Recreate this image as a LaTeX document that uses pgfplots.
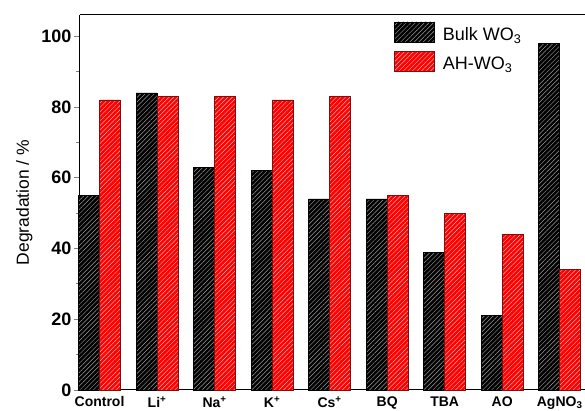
\documentclass[border=0pt]{standalone}
\usepackage{pgfplots}
\pgfplotsset{compat=1.18}
\usepackage{fontspec}
\setmainfont{Liberation Sans}
\usetikzlibrary{patterns.meta}
\definecolor{edgered}{HTML}{7A1010}
\begin{document}
\begin{tikzpicture}
\begin{axis}[
  scale only axis,
  width=505pt, height=375pt,
  xmin=-0.34, xmax=8.44,
  ymin=0, ymax=106,
  axis x line*=box,
  axis y line*=left,
  axis line style={line width=1pt},
  ybar=0pt,
  bar width=21pt,
  xtick={0,1,2,3,4,5,6,7,8},
  xticklabels={Control,Li\textsuperscript{+},Na\textsuperscript{+},K\textsuperscript{+},Cs\textsuperscript{+},BQ,TBA,AO,AgNO\textsubscript{3}},
  xtick style={draw=none},
  xticklabel style={font=\fontsize{14}{14}\selectfont\bfseries, yshift=3pt},
  ytick={0,20,40,60,80,100},
  minor ytick={10,30,50,70,90},
  tick align=outside,
  major tick length=6pt,
  minor tick length=4pt,
  ytick style={line width=0.8pt},
  yticklabel style={font=\fontsize{18}{18}\selectfont\bfseries, xshift=1pt},
  /pgf/number format/assume math mode=true,
  ylabel={Degradation / \%},
  ylabel style={font=\fontsize{17.5}{17.5}\selectfont, yshift=2pt},
  legend style={draw=none, fill=none, at={(rel axis cs:0.622,0.983)}, anchor=north west,
    font=\fontsize{18}{18}\selectfont, row sep=7pt, inner sep=0pt},
  legend image code/.code={\draw[#1] (0pt,-7pt) rectangle (40pt,13pt); \path (46pt,0pt);},
  legend cell align=left,
  clip=false,
]
\addplot[draw=black, line width=0.6pt, fill=black,
  postaction={pattern={Lines[angle=45,distance=3.2pt,line width=0.45pt]}, pattern color=gray!75}]
  coordinates {(0,55) (1,84) (2,63) (3,62) (4,54) (5,54) (6,39) (7,21) (8,98)};
\addlegendentry{Bulk WO\textsubscript{3}}
\addplot[draw=edgered, line width=0.6pt, fill=red,
  postaction={pattern={Lines[angle=45,distance=3.2pt,line width=0.45pt]}, pattern color=red!30!white}]
  coordinates {(0,82) (1,83) (2,83) (3,82) (4,83) (5,55) (6,50) (7,44) (8,34)};
\addlegendentry{AH-WO\textsubscript{3}}
\coordinate (O) at (rel axis cs:0,0);
\end{axis}
\pgfresetboundingbox
\path[use as bounding box] ([xshift=-80pt,yshift=-21pt]O) rectangle ++(585pt,411pt);
\end{tikzpicture}
\end{document}
